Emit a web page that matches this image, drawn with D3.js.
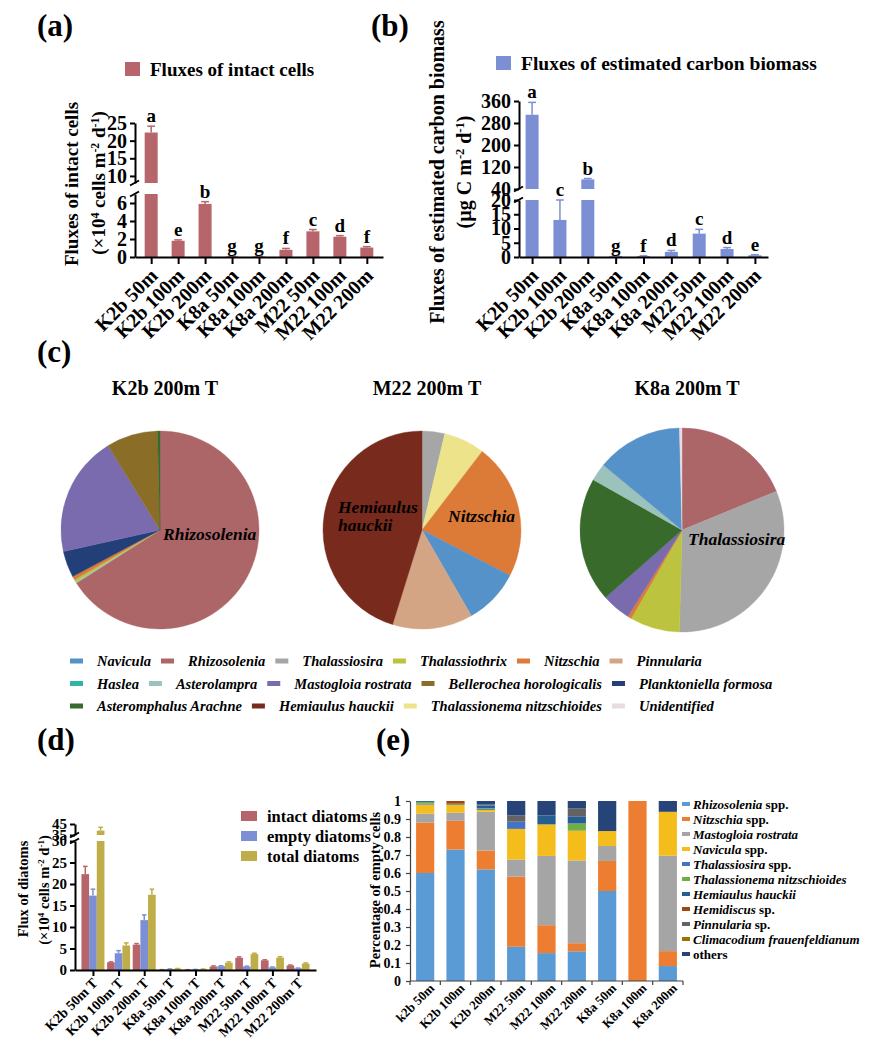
<!DOCTYPE html>
<html>
<head>
<meta charset="utf-8">
<title>Diatom fluxes</title>
<script src="https://cdn.jsdelivr.net/npm/d3@7"></script>
<style>
  body { margin: 0; background: #fff; }
  svg { display: block; }
  svg text { font-family: "Liberation Serif", "DejaVu Serif", "Times New Roman", serif !important; font-weight: bold; }
</style>
</head>
<body>
<svg width="875" height="1054"></svg>
<script>
// ---------- data ----------
const sites = ["K2b 50m", "K2b 100m", "K2b 200m", "K8a 50m", "K8a 100m", "K8a 200m", "M22 50m", "M22 100m", "M22 200m"];

// (a) intact cells, x10^4 cells m-2 d-1
const intactFlux = [22.3, 1.8, 5.9, 0.06, 0.06, 0.8, 2.85, 2.25, 1.05];
const intactErr = [1.8, 0.1, 0.25, 0.02, 0.02, 0.15, 0.2, 0.12, 0.1];
const intactLetters = ["a", "e", "b", "g", "g", "f", "c", "d", "f"];

// (b) estimated carbon biomass, ug C m-2 d-1
const carbonFlux = [310, 13, 75, 0.3, 0.3, 1.8, 8.2, 2.8, 0.6];
const carbonErr = [45, 7, 3, 0.1, 0.1, 0.5, 1.5, 0.5, 0.2];
const carbonLetters = ["a", "c", "b", "g", "f", "d", "c", "d", "e"];

// (c) species composition of the 200 m traps (%)
const speciesNames = ["Navicula", "Rhizosolenia", "Thalassiosira", "Thalassiothrix", "Nitzschia", "Pinnularia",
  "Haslea", "Asterolampra", "Mastogloia rostrata", "Bellerochea horologicalis", "Planktoniella formosa",
  "Asteromphalus Arachne", "Hemiaulus hauckii", "Thalassionema nitzschioides", "Unidentified"];
const speciesColors = ["#5592c9", "#ad6668", "#a6a6a6", "#bcc43f", "#dc7a38", "#d4a584",
  "#2fb4a6", "#9cc2bc", "#7a6aae", "#8a6e28", "#223f78",
  "#386a2c", "#782a1c", "#ece38b", "#e8dcdf"];
const pieTitles = ["K2b 200m T", "M22 200m T", "K8a 200m T"];
const pieK2bSpecies = ["Rhizosolenia", "Asterolampra", "Thalassiothrix", "Nitzschia", "Planktoniella formosa",
  "Mastogloia rostrata", "Bellerochea horologicalis", "Asteromphalus Arachne"];
const pieK2bPct = [66.0, 0.25, 0.35, 0.6, 4.3, 19.7, 8.4, 0.4];
const pieM22Species = ["Thalassiosira", "Thalassionema nitzschioides", "Nitzschia", "Navicula", "Pinnularia", "Hemiaulus hauckii"];
const pieM22Pct = [3.7, 6.7, 22.2, 9.1, 13.1, 45.2];
const pieK8aSpecies = ["Rhizosolenia", "Thalassiosira", "Thalassiothrix", "Nitzschia", "Mastogloia rostrata",
  "Asteromphalus Arachne", "Asterolampra", "Navicula", "Unidentified"];
const pieK8aPct = [18.8, 31.6, 7.9, 0.6, 4.6, 19.7, 2.8, 13.6, 0.4];

// (d) intact / empty / total diatoms, x10^4 cells m-2 d-1
const sitesT = ["K2b 50m T", "K2b 100m T", "K2b 200m T", "K8a 50m T", "K8a 100m T", "K8a 200m T", "M22 50m T", "M22 100m T", "M22 200m T"];
const diatomSeries = ["intact diatoms", "empty diatoms", "total diatoms"];
const emptyFlux = [17.3, 3.9, 11.6, 0.2, 0.1, 0.9, 0.8, 0.6, 0.4];
const emptyErr = [1.5, 0.6, 1.2, 0.05, 0.03, 0.1, 0.1, 0.1, 0.05];
const totalFlux = [39.0, 5.7, 17.5, 0.3, 0.2, 1.7, 3.7, 2.9, 1.5];
const totalErr = [3.0, 0.6, 1.3, 0.05, 0.03, 0.2, 0.2, 0.2, 0.15];

// (e) share of empty cells by taxon
const eSites = ["k2b 50m", "K2b 100m", "K2b 200m", "M22 50m", "M22 100m", "M22 200m", "K8a 50m", "K8a 100m", "K8a 200m"];
const eGenus = ["Rhizosolenia", "Nitzschia", "Mastogloia rostrata", "Navicula", "Thalassiosira", "Thalassionema nitzschioides",
  "Hemiaulus hauckii", "Hemidiscus", "Pinnularia", "Climacodium frauenfeldianum", ""];
const eSuffix = [" spp.", " spp.", "", " spp.", " spp.", "", "", " sp.", " sp.", "", "others"];
const eColors = ["#5b9bd5", "#ed7d31", "#a5a5a5", "#f4bd1c", "#4472c4", "#70ad47", "#255e91", "#9e480e", "#636363", "#997300", "#264478"];
const eShares = [
  [0.60, 0.73, 0.62, 0.19, 0.155, 0.165, 0.50, 0, 0.083],
  [0.28, 0.16, 0.105, 0.39, 0.155, 0.045, 0.167, 1.0, 0.083],
  [0.05, 0.045, 0.215, 0.095, 0.385, 0.46, 0.083, 0, 0.53],
  [0.05, 0.045, 0.01, 0.17, 0.175, 0.165, 0.083, 0, 0.244],
  [0.005, 0, 0.005, 0.04, 0, 0, 0, 0, 0],
  [0.01, 0, 0.005, 0, 0, 0.04, 0, 0, 0],
  [0.005, 0.005, 0.015, 0, 0.05, 0.04, 0, 0, 0],
  [0, 0.015, 0, 0, 0, 0, 0, 0, 0],
  [0, 0, 0.005, 0.035, 0, 0.045, 0, 0, 0],
  [0, 0, 0, 0, 0, 0, 0, 0, 0],
  [0, 0, 0.02, 0.08, 0.08, 0.04, 0.167, 0, 0.06]
];
const eTicks = [0, 0.1, 0.2, 0.3, 0.4, 0.5, 0.6, 0.7, 0.8, 0.9, 1];

const colIntact = "#b6666b", colEmpty = "#7d8fd4", colTotal = "#bead48";

// ---------- helpers ----------
const svg = d3.select("svg");
const SERIF = "'Liberation Serif', 'DejaVu Serif', serif";
svg.attr("font-family", SERIF).attr("font-weight", "bold");

function panelLabel(txt, x, y) {
  svg.append("text").attr("x", x).attr("y", y).attr("font-size", 31).text(txt);
}

function styleAxis(g, size, sw, col) {
  g.attr("font-family", SERIF).attr("font-size", size);
  g.selectAll("path.domain").attr("stroke", col || "#000").attr("stroke-width", sw);
  g.selectAll(".tick line").attr("stroke", col || "#000").attr("stroke-width", sw);
  g.selectAll(".tick text").attr("fill", "#000");
}

// y label with superscripts: parts = [[text, isSup], ...]
function rotLabel(cx, cy, size, parts) {
  const t = svg.append("text").attr("transform", `translate(${cx},${cy}) rotate(-90)`)
    .attr("text-anchor", "middle").attr("dy", "0.35em").attr("font-size", size);
  parts.forEach(p => {
    const s = t.append("tspan").text(p[0]);
    if (p[1]) s.attr("baseline-shift", "super").attr("font-size", size * 0.62);
  });
}

function brokenY(ax, yLow, yHigh, lowTicks, highTicks, size, tick, sw) {
  [[yLow, lowTicks], [yHigh, highTicks]].forEach(([sc, tv]) => {
    const g = svg.append("g").attr("transform", `translate(${ax},0)`)
      .call(d3.axisLeft(sc).tickValues(tv).tickFormat(d => d).tickSize(tick).tickSizeOuter(0).tickPadding(3));
    styleAxis(g, size, sw);
  });
  const lowTop = yLow.range()[1], highBot = yHigh.range()[0];
  [lowTop, highBot].forEach(y => {
    svg.append("line").attr("x1", ax - 5).attr("y1", y + 2.5).attr("x2", ax + 4).attr("y2", y - 2.5)
      .attr("stroke", "#000").attr("stroke-width", sw);
  });
}

function brokenBar(g, cx, w, v, e, color, yLow, yHigh) {
  const lowMax = yLow.domain()[1], highMin = yHigh.domain()[0];
  const y0 = yLow(0), yl = yLow(Math.min(v, lowMax));
  g.append("rect").attr("x", cx - w / 2).attr("y", yl).attr("width", w).attr("height", Math.max(y0 - yl, 0.8)).attr("fill", color);
  if (v > lowMax) {
    const yh = yHigh(v);
    g.append("rect").attr("x", cx - w / 2).attr("y", yh).attr("width", w).attr("height", yHigh(highMin) - yh).attr("fill", color);
  }
  const yOf = u => (u <= lowMax ? yLow(u) : yHigh(u));
  const ya = yOf(v), yb = yOf(v + e);
  g.append("line").attr("x1", cx).attr("x2", cx).attr("y1", ya).attr("y2", yb).attr("stroke", color).attr("stroke-width", 1.5);
  g.append("line").attr("x1", cx - w * 0.3).attr("x2", cx + w * 0.3).attr("y1", yb).attr("y2", yb).attr("stroke", color).attr("stroke-width", 1.5);
  return yb;
}

function rotatedTicks(g, dx, dy, size) {
  g.selectAll(".tick text").attr("text-anchor", "end").attr("x", 0).attr("y", 0).attr("dy", 0)
    .attr("transform", `translate(${dx},${dy}) rotate(-45)`).attr("font-size", size);
}

// ---------- (a) and (b) ----------
function fluxPanel(o) {
  const x = d3.scalePoint().domain(sites).range([o.ax, o.axEnd]).padding(o.pad);
  const yLow = d3.scaleLinear().domain(o.low).range(o.lowR);
  const yHigh = d3.scaleLinear().domain(o.high).range(o.highR);
  const g = svg.append("g");
  sites.forEach((s, i) => {
    const top = brokenBar(g, x(s), 13, o.values[i], o.errs[i], o.color, yLow, yHigh);
    g.append("text").attr("x", x(s)).attr("y", top - 4).attr("text-anchor", "middle").attr("font-size", 19).text(o.letters[i]);
  });
  const xg = svg.append("g").attr("transform", `translate(0,${o.lowR[0]})`)
    .call(d3.axisBottom(x).tickSize(7).tickSizeOuter(0).tickPadding(0));
  styleAxis(xg, 20, 2);
  rotatedTicks(xg, 7, 20, 20);
  brokenY(o.ax, yLow, yHigh, o.lowTicks, o.highTicks, 20, 5, 2);
  // legend
  svg.append("rect").attr("x", o.legX).attr("y", o.legY - 14).attr("width", 15).attr("height", 14).attr("fill", o.color);
  svg.append("text").attr("x", o.legX + 25).attr("y", o.legY).attr("font-size", o.legSize).text(o.legend);
}

panelLabel("(a)", 37, 36);
fluxPanel({
  values: intactFlux, errs: intactErr, letters: intactLetters, color: colIntact,
  ax: 135, axEnd: 383, pad: 0.6,
  low: [0, 7], lowR: [257, 194], high: [8, 25], highR: [183, 123],
  lowTicks: [0, 2, 4, 6], highTicks: [10, 15, 20, 25],
  legX: 125, legY: 76, legSize: 19, legend: "Fluxes of intact cells"
});
rotLabel(71, 184, 19, [["Fluxes of intact cells"]]);
rotLabel(98, 183, 19, [["(×10"], ["4", 1], [" cells m"], ["-2", 1], [" d"], ["-1", 1], [")"]]);

panelLabel("(b)", 371, 36);
fluxPanel({
  values: carbonFlux, errs: carbonErr, letters: carbonLetters, color: colEmpty,
  ax: 519, axEnd: 768, pad: 0.47,
  low: [0, 20], lowR: [257, 200], high: [40, 360], highR: [189, 101],
  lowTicks: [0, 5, 10, 15, 20], highTicks: [40, 120, 200, 280, 360],
  legX: 496, legY: 70, legSize: 19.5, legend: "Fluxes of estimated carbon biomass"
});
rotLabel(437, 172, 20, [["Fluxes of estimated carbon biomass"]]);
rotLabel(464, 172, 20, [["(µg C m"], ["-2", 1], [" d"], ["-1", 1], [")"]]);

// ---------- (c) pies ----------
panelLabel("(c)", 37, 362);
const colorOf = d3.scaleOrdinal().domain(speciesNames).range(speciesColors);
const pieCenters = [160, 422, 682];
const pieRadii = [99, 99, 102];
const pieSets = [[pieK2bSpecies, pieK2bPct], [pieM22Species, pieM22Pct], [pieK8aSpecies, pieK8aPct]];
pieSets.forEach(([names, pct], k) => {
  const arcs = d3.pie().sort(null).value(d => d)(pct);
  const arc = d3.arc().innerRadius(0).outerRadius(pieRadii[k]);
  const g = svg.append("g").attr("transform", `translate(${pieCenters[k]},530)`);
  g.selectAll("path").data(arcs).join("path")
    .attr("d", arc)
    .attr("fill", (d, i) => colorOf(names[i]))
    .attr("stroke", (d, i) => colorOf(names[i])).attr("stroke-width", 0.4);
  svg.append("text").attr("x", pieCenters[k] + 5).attr("y", 395).attr("text-anchor", "middle")
    .attr("font-size", 20).text(pieTitles[k]);
});
function pieNote(txt, x, y) {
  svg.append("text").attr("x", x).attr("y", y).attr("font-size", 17.5).attr("font-style", "italic").text(txt);
}
pieNote("Rhizosolenia", 163, 540);
pieNote("Hemiaulus", 338, 513);
pieNote("hauckii", 338, 531);
pieNote("Nitzschia", 448, 522);
pieNote("Thalassiosira", 688, 545);

// legend, flowed row by row
const legendRows = [[0, 1, 2, 3, 4, 5], [6, 7, 8, 9, 10], [11, 12, 13, 14]];
const legendRowY = [661, 683.5, 706];
legendRows.forEach((row, r) => {
  let x = 70;
  row.forEach(i => {
    svg.append("rect").attr("x", x).attr("y", legendRowY[r] - 2.5).attr("width", 13).attr("height", 5).attr("fill", speciesColors[i]);
    const t = svg.append("text").attr("x", x + 27).attr("y", legendRowY[r] + 5).attr("font-size", 14.5)
      .attr("font-style", "italic").text(speciesNames[i]);
    x += 27 + t.node().getComputedTextLength() + 10;
  });
});

// ---------- (d) ----------
panelLabel("(d)", 37, 750);
{
  const x0 = d3.scalePoint().domain(sitesT).range([75, 316]).padding(0.7);
  const x1 = d3.scaleBand().domain(diatomSeries).range([-11.5, 11.5]);
  const yLow = d3.scaleLinear().domain([0, 30]).range([970, 841]);
  const yHigh = d3.scaleLinear().domain([35, 45]).range([835, 824]);
  const vals = [intactFlux, emptyFlux, totalFlux], errs = [intactErr, emptyErr, totalErr];
  const cols = [colIntact, colEmpty, colTotal];
  const g = svg.append("g");
  sitesT.forEach((s, i) => {
    diatomSeries.forEach((ser, j) => {
      brokenBar(g, x0(s) + x1(ser) + x1.bandwidth() / 2, x1.bandwidth(), vals[j][i], errs[j][i], cols[j], yLow, yHigh);
    });
  });
  const xg = svg.append("g").attr("transform", "translate(0,970)")
    .call(d3.axisBottom(x0).tickSize(6).tickSizeOuter(0).tickPadding(0));
  styleAxis(xg, 14, 2);
  rotatedTicks(xg, 5, 14, 14);
  brokenY(75, yLow, yHigh, [0, 5, 10, 15, 20, 25, 30], [35, 45], 15, 5, 2);
  diatomSeries.forEach((ser, j) => {
    svg.append("rect").attr("x", 241).attr("y", 811 + j * 20).attr("width", 16).attr("height", 10).attr("fill", cols[j]);
    svg.append("text").attr("x", 267).attr("y", 821.5 + j * 20).attr("font-size", 16.5).text(ser);
  });
  rotLabel(23, 889, 14.5, [["Flux of diatoms"]]);
  rotLabel(44, 890, 14.5, [["(×10"], ["4", 1], [" cells m"], ["-2", 1], [" d"], ["-1", 1], [")"]]);
}

// ---------- (e) ----------
panelLabel("(e)", 376, 750);
{
  const x = d3.scaleBand().domain(eSites).range([410, 683]).paddingInner(0.4).paddingOuter(0.2);
  const y = d3.scaleLinear().domain([0, 1]).range([981, 801]);
  const stack = d3.stack().keys(d3.range(eGenus.length)).value((i, k) => eShares[k][i]);
  const layers = stack(d3.range(eSites.length));
  const g = svg.append("g");
  layers.forEach((layer, k) => {
    g.selectAll(null).data(layer).join("rect")
      .attr("x", (d, i) => x(eSites[i]))
      .attr("width", x.bandwidth())
      .attr("y", d => y(d[1]))
      .attr("height", d => y(d[0]) - y(d[1]))
      .attr("fill", eColors[k]);
  });
  const yg = svg.append("g").attr("transform", "translate(410,0)")
    .call(d3.axisLeft(y).tickValues(eTicks).tickFormat(d => d).tickSize(4).tickSizeOuter(0).tickPadding(5));
  styleAxis(yg, 14, 1.2, "#404040");
  const xg = svg.append("g").attr("transform", "translate(0,981)")
    .call(d3.axisBottom(x).tickSize(0).tickSizeOuter(0).tickPadding(0));
  styleAxis(xg, 13, 1.2, "#404040");
  xg.select("path.domain").attr("d", "M410,0H683");
  rotatedTicks(xg, 10, 8, 13);
  eSites.forEach(s => {
    const bx = x(s) - x.step() * x.paddingInner() / 2;
    xg.append("line").attr("x1", bx).attr("x2", bx).attr("y1", 0).attr("y2", 4).attr("stroke", "#404040").attr("stroke-width", 1.2);
  });
  xg.append("line").attr("x1", 683).attr("x2", 683).attr("y1", 0).attr("y2", 4).attr("stroke", "#404040").attr("stroke-width", 1.2);
  rotLabel(375, 890, 14.5, [["Percentage of empty cells"]]);

  eGenus.forEach((name, k) => {
    const ly = 804 + k * 15;
    svg.append("rect").attr("x", 682).attr("y", ly - 2).attr("width", 8).attr("height", 4).attr("fill", eColors[k]);
    const t = svg.append("text").attr("x", 693).attr("y", ly + 5).attr("font-size", 13);
    if (name) t.append("tspan").attr("font-style", "italic").text(name);
    if (eSuffix[k]) t.append("tspan").text(eSuffix[k]);
  });
}
</script>
</body>
</html>
